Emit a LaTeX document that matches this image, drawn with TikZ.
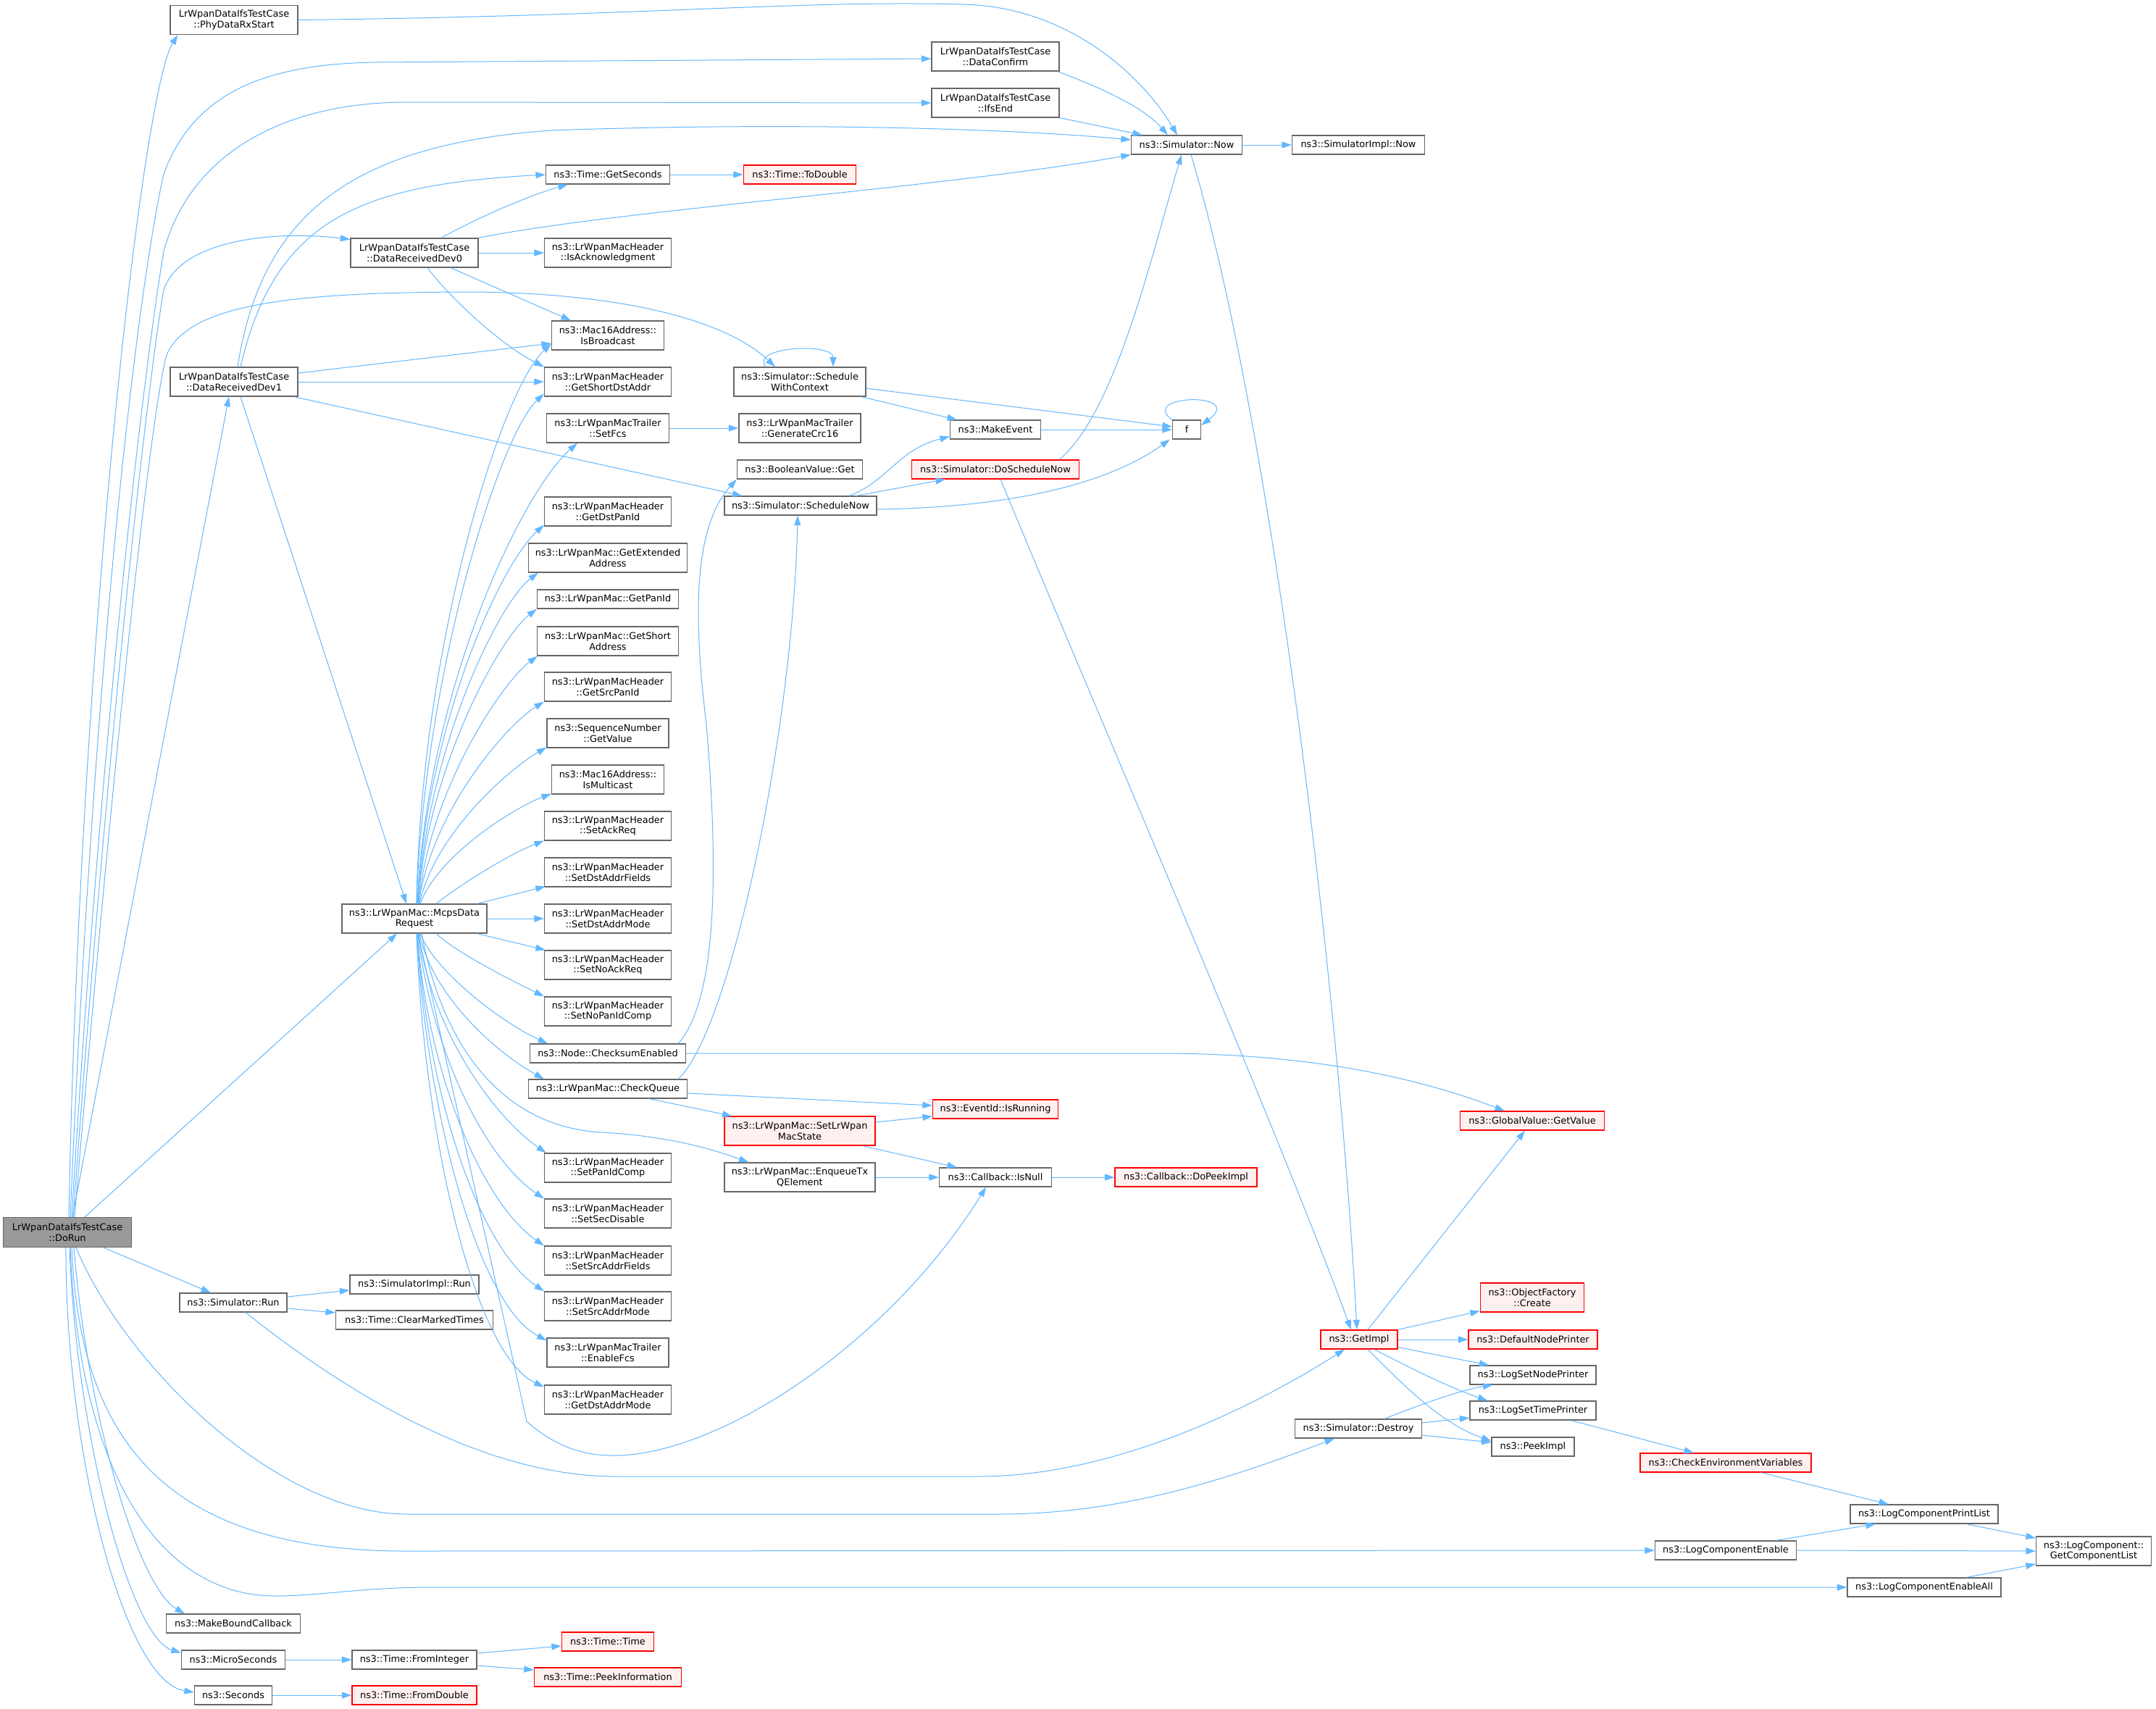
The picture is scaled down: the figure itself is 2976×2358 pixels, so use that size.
\documentclass[tikz,border=0pt]{standalone}
\usepackage{fontspec}
\setmainfont{DejaVu Sans}
\usetikzlibrary{arrows.meta,calc}
\definecolor{edgeblue}{HTML}{63B8FF}
\definecolor{boxgray}{HTML}{666666}
\definecolor{boxred}{HTML}{FF0000}
\definecolor{boxredfill}{HTML}{FFF0F0}
\definecolor{boxgrayfill}{HTML}{999999}
\newcommand\ndfont{\fontsize{12.9pt}{14.8pt}\selectfont}
\begin{document}
\begin{tikzpicture}[x=1pt,y=-1pt,
  nb/.style={draw=boxgray,line width=1.2pt,fill=white,inner sep=0pt,align=center,font=\ndfont,minimum height=26pt},
  two/.style={minimum height=40pt},
  rb/.style={nb,draw=boxred,fill=boxredfill},
  gb/.style={nb,fill=boxgrayfill},
  cn/.style={draw=edgeblue,line width=1pt,-{Triangle[length=13.5pt,width=9pt]}}]
\useasboundingbox (0,0) rectangle (2976,2358);
\fill[white] (0,0) rectangle (2976,2358);
% nodes
\node[gb,minimum width=177pt,minimum height=41pt] (dorun) at (93,1701) {LrWpanDataIfsTestCase\\::DoRun};
\node[nb,two,minimum width=176pt] (phy) at (323,27.5) {LrWpanDataIfsTestCase\\::PhyDataRxStart};
\node[nb,two,minimum width=176pt] (dconf) at (1374,78) {LrWpanDataIfsTestCase\\::DataConfirm};
\node[nb,two,minimum width=176pt] (ifsend) at (1374,142) {LrWpanDataIfsTestCase\\::IfsEnd};
\node[nb,minimum width=153pt] (now) at (1638,200) {ns3::Simulator::Now};
\node[nb,minimum width=183pt] (implnow) at (1875,200) {ns3::SimulatorImpl::Now};
\node[nb,minimum width=171pt] (getsec) at (839,241) {ns3::Time::GetSeconds};
\node[rb,minimum width=155pt] (todouble) at (1104,241) {ns3::Time::ToDouble};
\node[nb,two,minimum width=176pt] (dev0) at (572,349) {LrWpanDataIfsTestCase\\::DataReceivedDev0};
\node[nb,two,minimum width=175pt] (isack) at (839,349) {ns3::LrWpanMacHeader\\::IsAcknowledgment};
\node[nb,two,minimum width=155pt] (isbcast) at (839,463) {ns3::Mac16Address::\\IsBroadcast};
\node[nb,two,minimum width=175pt] (getshort) at (839,527) {ns3::LrWpanMacHeader\\::GetShortDstAddr};
\node[nb,two,minimum width=176pt] (dev1) at (323,527) {LrWpanDataIfsTestCase\\::DataReceivedDev1};
\node[nb,two,minimum width=182pt] (swc) at (1104,527) {ns3::Simulator::Schedule\\WithContext};
\node[nb,two,minimum width=169pt] (setfcs) at (839,591) {ns3::LrWpanMacTrailer\\::SetFcs};
\node[nb,two,minimum width=168pt] (crc) at (1104,591) {ns3::LrWpanMacTrailer\\::GenerateCrc16};
\node[nb,minimum width=125pt] (mkevent) at (1374,593) {ns3::MakeEvent};
\node[nb,minimum width=39pt] (f) at (1638,593) {f};
\node[nb,minimum width=173pt] (boolget) at (1104,648) {ns3::BooleanValue::Get};
\node[rb,minimum width=231pt] (dosched) at (1374,648) {ns3::Simulator::DoScheduleNow};
\node[nb,minimum width=210pt] (schednow) at (1105,698) {ns3::Simulator::ScheduleNow};
\node[nb,two,minimum width=175pt] (getdstpan) at (839,706) {ns3::LrWpanMacHeader\\::GetDstPanId};
\node[nb,two,minimum width=219pt] (getext) at (839,770) {ns3::LrWpanMac::GetExtended\\Address};
\node[nb,minimum width=195pt] (getpan) at (839,827) {ns3::LrWpanMac::GetPanId};
\node[nb,two,minimum width=195pt] (getshortaddr) at (839,885) {ns3::LrWpanMac::GetShort\\Address};
\node[nb,two,minimum width=175pt] (getsrcpan) at (839,948) {ns3::LrWpanMacHeader\\::GetSrcPanId};
\node[nb,two,minimum width=168pt] (seqget) at (839,1012) {ns3::SequenceNumber\\::GetValue};
\node[nb,two,minimum width=155pt] (ismcast) at (839,1076) {ns3::Mac16Address::\\IsMulticast};
\node[nb,two,minimum width=175pt] (setackreq) at (839,1140) {ns3::LrWpanMacHeader\\::SetAckReq};
\node[nb,two,minimum width=175pt] (setdstfields) at (839,1204) {ns3::LrWpanMacHeader\\::SetDstAddrFields};
\node[nb,two,minimum width=175pt] (setdstmode) at (839,1268) {ns3::LrWpanMacHeader\\::SetDstAddrMode};
\node[nb,two,minimum width=200pt] (mcps) at (572,1268) {ns3::LrWpanMac::McpsData\\Request};
\node[nb,two,minimum width=175pt] (setnoack) at (839,1332) {ns3::LrWpanMacHeader\\::SetNoAckReq};
\node[nb,two,minimum width=175pt] (setnopan) at (839,1396) {ns3::LrWpanMacHeader\\::SetNoPanIdComp};
\node[nb,minimum width=215pt] (chksum) at (839,1454) {ns3::Node::ChecksumEnabled};
\node[nb,minimum width=219pt] (chkq) at (839,1503) {ns3::LrWpanMac::CheckQueue};
\node[rb,minimum width=173pt] (isrun) at (1374,1531) {ns3::EventId::IsRunning};
\node[rb,minimum width=199pt] (globval) at (2115,1547) {ns3::GlobalValue::GetValue};
\node[rb,two,minimum width=208pt] (setstate) at (1104,1561) {ns3::LrWpanMac::SetLrWpan\\MacState};
\node[nb,two,minimum width=175pt] (setpancomp) at (839,1612) {ns3::LrWpanMacHeader\\::SetPanIdComp};
\node[nb,two,minimum width=208pt] (enqueue) at (1104,1625) {ns3::LrWpanMac::EnqueueTx\\QElement};
\node[nb,minimum width=155pt] (isnull) at (1374,1625) {ns3::Callback::IsNull};
\node[rb,minimum width=196pt] (dopeek) at (1637,1625) {ns3::Callback::DoPeekImpl};
\node[nb,two,minimum width=175pt] (setsecdis) at (839,1675) {ns3::LrWpanMacHeader\\::SetSecDisable};
\node[nb,two,minimum width=175pt] (setsrcfields) at (839,1740) {ns3::LrWpanMacHeader\\::SetSrcAddrFields};
\node[nb,two,minimum width=175pt] (setsrcmode) at (839,1803) {ns3::LrWpanMacHeader\\::SetSrcAddrMode};
\node[nb,two,minimum width=168pt] (enablefcs) at (839,1867) {ns3::LrWpanMacTrailer\\::EnableFcs};
\node[nb,two,minimum width=175pt] (getdstmode) at (839,1932) {ns3::LrWpanMacHeader\\::GetDstAddrMode};
\node[nb,minimum width=148pt] (simrun) at (322,1798) {ns3::Simulator::Run};
\node[nb,minimum width=178pt] (implrun) at (572,1773) {ns3::SimulatorImpl::Run};
\node[nb,minimum width=217pt] (clearmarked) at (572,1822) {ns3::Time::ClearMarkedTimes};
\node[rb,two,minimum width=143pt] (objcreate) at (2115,1791) {ns3::ObjectFactory\\::Create};
\node[rb,minimum width=106pt] (getimpl) at (1876,1849) {ns3::GetImpl};
\node[rb,minimum width=178pt] (defprinter) at (2116,1849) {ns3::DefaultNodePrinter};
\node[nb,minimum width=174pt] (setnodeprinter) at (2116,1898) {ns3::LogSetNodePrinter};
\node[nb,minimum width=174pt] (settimeprinter) at (2116,1947) {ns3::LogSetTimePrinter};
\node[nb,minimum width=175pt] (destroy) at (1875,1972) {ns3::Simulator::Destroy};
\node[nb,minimum width=114pt] (peekimpl) at (2116,1997) {ns3::PeekImpl};
\node[rb,minimum width=236pt] (checkenv) at (2382,2019) {ns3::CheckEnvironmentVariables};
\node[nb,minimum width=204pt] (printlist) at (2656,2090) {ns3::LogComponentPrintList};
\node[nb,minimum width=195pt] (lcenable) at (2382,2140) {ns3::LogComponentEnable};
\node[nb,two,minimum width=159pt] (complist) at (2890,2141) {ns3::LogComponent::\\GetComponentList};
\node[nb,minimum width=212pt] (lcenableall) at (2656,2191) {ns3::LogComponentEnableAll};
\node[nb,minimum width=185pt] (mkbound) at (322,2241) {ns3::MakeBoundCallback};
\node[nb,minimum width=143pt] (micro) at (322,2291) {ns3::MicroSeconds};
\node[nb,minimum width=107pt] (seconds) at (322,2340) {ns3::Seconds};
\node[nb,minimum width=172pt] (fromint) at (572,2291) {ns3::Time::FromInteger};
\node[rb,minimum width=172pt] (fromdbl) at (572,2340) {ns3::Time::FromDouble};
\node[rb,minimum width=127pt] (timetime) at (839,2266) {ns3::Time::Time};
\node[rb,minimum width=203pt] (peekinfo) at (839,2315) {ns3::Time::PeekInformation};
% edges from DoRun
\draw[cn] ($(dorun.north)+(2,0)$) .. controls (110,900) and (195,130) .. ($(phy.south west)+(11,0)$);
\draw[cn] ($(dorun.north)+(4,0)$) .. controls (130,900) and (190,400) .. (226,240) .. controls (270,120) and (380,88) .. (520,86) -- ($(dconf.west)+(0,3)$);
\draw[cn] ($(dorun.north)+(6,0)$) .. controls (140,1000) and (200,500) .. (226,347) .. controls (260,220) and (380,142) .. (560,141) -- (ifsend.west);
\draw[cn] ($(dorun.north)+(8,0)$) .. controls (150,1000) and (205,520) .. (226,400) .. controls (250,330) and (380,318) .. ($(dev0.north west)+(0,2)$);
\draw[cn] ($(dorun.north)+(10,0)$) .. controls (160,1000) and (210,560) .. (230,490) .. controls (260,420) and (400,404) .. (640,403) .. controls (850,403) and (1000,440) .. ($(swc.north)+(-34,0)$);
\draw[cn] ($(dorun.north)+(7,0)$) -- ($(dev1.south)+(-7,0)$);
\draw[cn] ($(dorun.north)+(24,0)$) -- ($(mcps.south)+(-24,0)$);
\draw[cn] ($(dorun.south)+(50,0)$) -- ($(simrun.north)+(-31,0)$);
\draw[cn] ($(dorun.south)+(12,0)$) .. controls (170,1880) and (380,2090) .. (561,2090) -- (1380,2090) .. controls (1550,2090) and (1700,2040) .. ($(destroy.south)+(-33,0)$);
\draw[cn] ($(dorun.south)+(6,0)$) .. controls (110,1980) and (220,2141) .. (561,2141) -- (lcenable.west);
\draw[cn] ($(dorun.south)+(4,0)$) .. controls (110,2050) and (230,2205) .. (383,2203) .. controls (450,2202) and (500,2191) .. (600,2191) -- (lcenableall.west);
\draw[cn] ($(dorun.south)+(9,0)$) .. controls (120,1950) and (190,2190) .. ($(mkbound.north)+(-67,0)$);
\draw[cn] ($(dorun.south)+(3,0)$) .. controls (105,1980) and (180,2260) .. ($(micro.north west)+(0,4)$);
\draw[cn] ($(dorun.south)+(-2,0)$) .. controls (90,2000) and (170,2320) .. ($(seconds.west)+(0,-4)$);
% DataReceivedDev1
\draw[cn] ($(dev1.north)+(5,0)$) .. controls (360,300) and (480,200) .. (760,180) .. controls (1100,168) and (1400,178) .. ($(now.west)+(0,-7)$);
\draw[cn] ($(dev1.north)+(9,0)$) .. controls (380,300) and (500,255) .. (getsec.west);
\draw[cn] ($(dev1.east)+(0,-12)$) -- ($(isbcast.west)+(0,11)$);
\draw[cn] (dev1.east) -- (getshort.west);
\draw[cn] ($(dev1.south)+(9,0)$) -- ($(mcps.north)+(-11,0)$);
\draw[cn] ($(dev1.south east)+(-6,0)$) -- ($(schednow.north west)+(25,0)$);
% DataReceivedDev0
\draw[cn] ($(dev0.north)+(37,0)$) .. controls (660,300) and (730,270) .. ($(getsec.south west)+(31,0)$);
\draw[cn] (dev0.north east) .. controls (850,290) and (1300,260) .. (now.south west);
\draw[cn] (dev0.east) -- (isack.west);
\draw[cn] ($(dev0.south)+(50,0)$) -- ($(isbcast.north)+(-51,0)$);
\draw[cn] ($(dev0.south)+(18,0)$) .. controls (620,410) and (690,475) .. (getshort.north west);
% to Now
\draw[cn] (phy.east) .. controls (900,22) and (1100,0) .. (1330,6) .. controls (1480,10) and (1580,110) .. ($(now.north)+(-13,0)$);
\draw[cn] ($(dconf.south east)+(-3,0)$) .. controls (1530,125) and (1580,150) .. ($(now.north)+(-26,0)$);
\draw[cn] (ifsend.south east) -- ($(now.north west)+(16,0)$);
\draw[cn] (now.east) -- (implnow.west);
\draw[cn] ($(now.south)+(6,0)$) .. controls (1760,600) and (1850,1400) .. ($(getimpl.north)+(-3,0)$);
\draw[cn] ($(dosched.north east)+(-28,0)$) .. controls (1540,570) and (1590,350) .. ($(now.south)+(-7,0)$);
\draw[cn] ($(dosched.south)+(7,0)$) .. controls (1500,950) and (1760,1550) .. ($(getimpl.north)+(-11,0)$);
\draw[cn] (getsec.east) -- (todouble.west);
\draw[cn] (setfcs.east) -- (crc.west);
% scheduling
\draw[cn] ($(swc.north)+(-47,0)$) .. controls (1035,478) and (1150,473) .. ($(swc.north)+(46,0)$);
\draw[cn] ($(swc.south east)+(-7,0)$) -- ($(mkevent.north west)+(10,0)$);
\draw[cn] ($(swc.east)+(0,9)$) -- ($(f.west)+(0,-4)$);
\draw[cn] (mkevent.east) -- (f.west);
\draw[cn] (f.north west) .. controls (1570,545) and (1720,540) .. ($(f.east)+(0,-6)$);
\draw[cn] ($(schednow.north)+(67,0)$) .. controls (1225,665) and (1240,620) .. ($(mkevent.south west)+(0,-4)$);
\draw[cn] ($(schednow.north)+(77,0)$) -- ($(dosched.south west)+(47,0)$);
\draw[cn] ($(schednow.east)+(0,5)$) .. controls (1420,700) and (1540,660) .. ($(f.south west)+(-3,0)$);
% checksum / queue
\draw[cn] ($(chksum.north east)+(-11,0)$) .. controls (990,1380) and (992,1200) .. (975,1000) .. controls (958,860) and (955,730) .. (boolget.south west);
\draw[cn] ($(chkq.north east)+(-13,0)$) .. controls (1010,1420) and (1095,1000) .. ($(schednow.south)+(-4,0)$);
\draw[cn] (chksum.east) -- (1600,1454) .. controls (1800,1454) and (1950,1485) .. ($(globval.north)+(-38,0)$);
\draw[cn] ($(chkq.east)+(0,6)$) -- ($(isrun.west)+(0,-5)$);
\draw[cn] ($(chkq.south)+(57,0)$) -- ($(setstate.north west)+(11,0)$);
\draw[cn] ($(setstate.east)+(0,-12)$) -- ($(isrun.west)+(0,10)$);
\draw[cn] ($(setstate.south east)+(-18,0)$) -- ($(isnull.north west)+(25,0)$);
\draw[cn] (enqueue.east) -- (isnull.west);
\draw[cn] (isnull.east) -- (dopeek.west);
% McpsDataRequest fan
\draw[cn] ($(mcps.south)+(5,0)$) -- (727,1962) .. controls (770,2000) and (810,2010) .. (853,2009) .. controls (1000,2005) and (1230,1850) .. ($(isnull.south)+(-13,0)$);
\draw[cn] ($(mcps.south)+(10,0)$) .. controls (610,1440) and (690,1555) .. (830,1563) .. controls (920,1568) and (980,1585) .. ($(enqueue.north west)+(34,0)$);
\draw[cn] ($(mcps.north)+(3,0)$) .. controls (580,900) and (690,540) .. ($(isbcast.south west)+(0,-9)$);
\draw[cn] ($(mcps.north)+(3,0)$) .. controls (585,930) and (690,600) .. ($(getshort.south west)+(0,-4)$);
\draw[cn] ($(mcps.north)+(4,0)$) .. controls (590,950) and (720,680) .. ($(setfcs.south west)+(43,0)$);
\draw[cn] ($(mcps.north)+(4,0)$) .. controls (590,1000) and (690,780) .. ($(getdstpan.south west)+(0,-2)$);
\draw[cn] ($(mcps.north)+(5,0)$) .. controls (590,1030) and (690,830) .. ($(getext.south west)+(14,0)$);
\draw[cn] ($(mcps.north)+(5,0)$) .. controls (590,1060) and (690,880) .. (getpan.south west);
\draw[cn] ($(mcps.north)+(6,0)$) .. controls (592,1090) and (695,940) .. ($(getshortaddr.south west)+(1,0)$);
\draw[cn] ($(mcps.north)+(6,0)$) .. controls (595,1120) and (700,1000) .. (getsrcpan.south west);
\draw[cn] ($(mcps.north)+(7,0)$) .. controls (600,1150) and (705,1060) .. ($(seqget.south west)+(0,-1)$);
\draw[cn] ($(mcps.north)+(8,0)$) .. controls (605,1180) and (710,1115) .. ($(ismcast.south west)+(0,-1)$);
\draw[cn] ($(mcps.north)+(30,0)$) .. controls (630,1225) and (700,1180) .. (setackreq.south west);
\draw[cn] ($(mcps.north east)+(-14,0)$) -- ($(setdstfields.south west)+(2,-1)$);
\draw[cn] (mcps.east) -- (setdstmode.west);
\draw[cn] ($(mcps.south east)+(-14,0)$) -- ($(setnoack.north west)+(2,0)$);
\draw[cn] ($(mcps.south)+(30,0)$) .. controls (630,1315) and (700,1350) .. (setnopan.north west);
\draw[cn] ($(mcps.south)+(8,0)$) .. controls (600,1340) and (690,1410) .. ($(chksum.north west)+(25,0)$);
\draw[cn] ($(mcps.south)+(7,0)$) .. controls (595,1370) and (680,1450) .. ($(chkq.north west)+(22,0)$);
\draw[cn] ($(mcps.south)+(6,0)$) .. controls (595,1420) and (680,1540) .. ($(setpancomp.north west)+(3,0)$);
\draw[cn] ($(mcps.south)+(5,0)$) .. controls (595,1450) and (670,1600) .. (setsecdis.north west);
\draw[cn] ($(mcps.south)+(4,0)$) .. controls (590,1480) and (665,1660) .. (setsrcfields.north west);
\draw[cn] ($(mcps.south)+(4,0)$) .. controls (590,1510) and (660,1720) .. (setsrcmode.north west);
\draw[cn] ($(mcps.south)+(3,0)$) .. controls (590,1540) and (660,1800) .. ($(enablefcs.north west)+(0,4)$);
\draw[cn] ($(mcps.south)+(3,0)$) .. controls (585,1570) and (655,1870) .. ($(getdstmode.north west)+(0,3)$);
% Simulator::Run
\draw[cn] ($(simrun.east)+(0,-8)$) -- ($(implrun.west)+(0,8)$);
\draw[cn] ($(simrun.east)+(0,8)$) -- ($(clearmarked.west)+(0,-10)$);
\draw[cn] ($(simrun.south)+(17,0)$) .. controls (450,1900) and (650,2038) .. (850,2038) -- (1350,2038) .. controls (1550,2038) and (1750,1930) .. ($(getimpl.south)+(-20,0)$);
% GetImpl
\draw[cn] ($(getimpl.north)+(12,0)$) -- ($(globval.south)+(-10,0)$);
\draw[cn] (getimpl.north east) -- ($(objcreate.south west)+(0,-2)$);
\draw[cn] (getimpl.east) -- (defprinter.west);
\draw[cn] ($(getimpl.south east)+(0,-3)$) -- ($(setnodeprinter.north west)+(27,0)$);
\draw[cn] ($(getimpl.south)+(21,0)$) .. controls (1950,1890) and (2000,1915) .. ($(settimeprinter.north west)+(25,0)$);
\draw[cn] ($(getimpl.south)+(12,0)$) .. controls (1940,1915) and (1990,1965) .. ($(peekimpl.west)+(0,-8)$);
% Destroy
\draw[cn] ($(destroy.north)+(36,0)$) .. controls (1970,1935) and (2020,1918) .. ($(setnodeprinter.south west)+(32,0)$);
\draw[cn] ($(destroy.east)+(0,-8)$) -- ($(settimeprinter.west)+(0,10)$);
\draw[cn] ($(destroy.east)+(0,9)$) -- ($(peekimpl.west)+(0,-6)$);
% logging
\draw[cn] ($(settimeprinter.south east)+(-35,0)$) -- ($(checkenv.north)+(-44,0)$);
\draw[cn] ($(checkenv.south)+(49,0)$) -- ($(printlist.north)+(-49,0)$);
\draw[cn] ($(lcenable.north)+(69,0)$) -- ($(printlist.south)+(-67,0)$);
\draw[cn] (lcenable.east) -- (complist.west);
\draw[cn] ($(printlist.south)+(58,0)$) -- ($(complist.west)+(0,-18)$);
\draw[cn] ($(lcenableall.north)+(58,0)$) -- ($(complist.west)+(0,18)$);
% time
\draw[cn] (micro.east) -- (fromint.west);
\draw[cn] ($(fromint.east)+(0,-9)$) -- ($(timetime.west)+(0,6)$);
\draw[cn] ($(fromint.east)+(0,8)$) -- ($(peekinfo.west)+(0,-10)$);
\draw[cn] (seconds.east) -- (fromdbl.west);
\end{tikzpicture}
\end{document}
